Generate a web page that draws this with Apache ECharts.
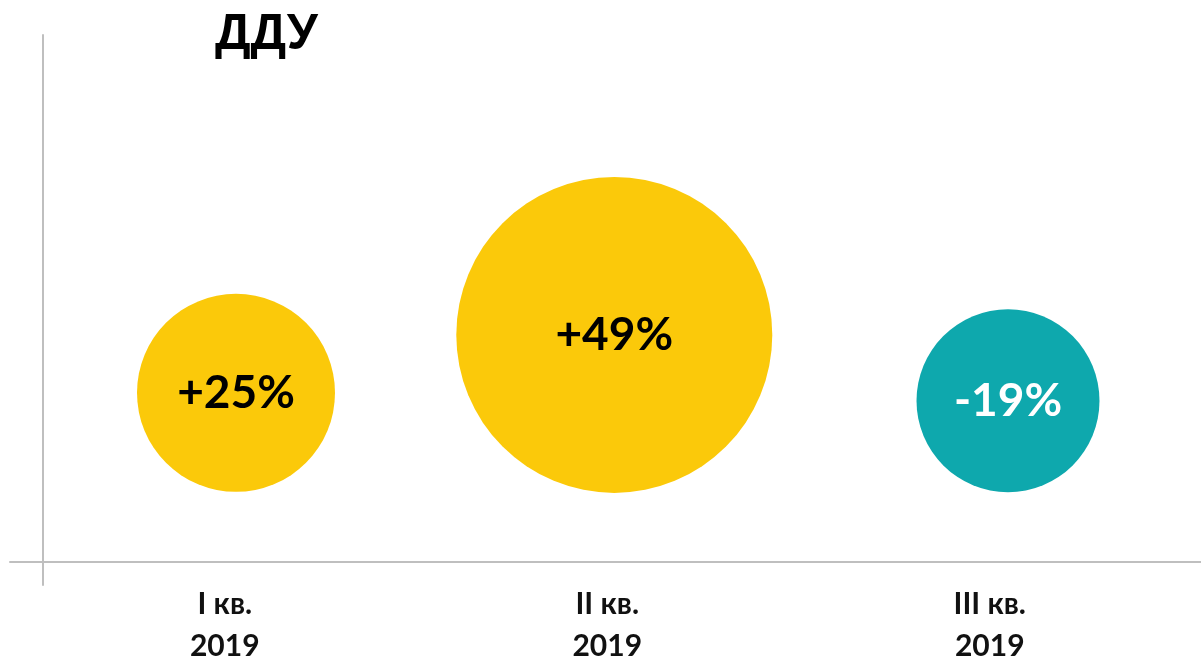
<!DOCTYPE html>
<html><head><meta charset="utf-8">
<script src="https://cdn.jsdelivr.net/npm/echarts@6/dist/echarts.min.js"></script>
<style>html,body{margin:0;padding:0;background:#fff}#c{width:1201px;height:667px}</style>
</head><body><div id="c"></div>
<script>
const categories = ['I кв.\n2019', 'II кв.\n2019', 'III кв.\n2019'];
const changePct = [25, 49, -19];
const bubbleX = [0.5, 1.48, 2.5];
const bubbleY = [32.1, 43.1, 30.6];
const bubbleSize = [198, 316, 183];
const titleText = 'ДДУ';

const YELLOW = '#FBC90A', TEAL = '#0EA8AD', AX = '#BFBFBF';
const chart = echarts.init(document.getElementById('c'));
chart.setOption({
  animation: false,
  title: { text: titleText, left: 210, top: 5,
    textStyle: { fontFamily: 'Liberation Sans', fontWeight: 'bold', fontSize: 50, color: '#000' } },
  grid: [
    { left: 10, right: 0, top: 35, bottom: 82 },
    { left: 33.5, width: 1147.5, top: 35, bottom: 105 }
  ],
  xAxis: [
    { type: 'value', gridIndex: 0, min: -0.0855, max: 3, splitLine: { show: false },
      axisLine: { show: true, onZero: true, lineStyle: { color: AX, width: 2 } },
      axisTick: { show: false }, axisLabel: { show: false } },
    { type: 'category', gridIndex: 1, data: categories,
      axisLine: { show: false }, axisTick: { show: false },
      axisLabel: { margin: 32, fontFamily: 'Lato', fontWeight: 'bold', fontSize: 30, lineHeight: 42, color: '#111' } }
  ],
  yAxis: [
    { type: 'value', gridIndex: 0, min: -4.36, max: 100, splitLine: { show: false },
      axisLine: { show: true, onZero: true, lineStyle: { color: AX, width: 2 } },
      axisTick: { show: false }, axisLabel: { show: false } },
    { type: 'value', gridIndex: 1, show: false }
  ],
  series: [{
    type: 'scatter', xAxisIndex: 0, yAxisIndex: 0,
    data: changePct.map((v, i) => ({
      value: [bubbleX[i], bubbleY[i], v],
      symbolSize: bubbleSize[i],
      itemStyle: { color: v >= 0 ? YELLOW : TEAL, opacity: 1 },
      label: { color: v >= 0 ? '#000' : '#fff' }
    })),
    label: { show: true, position: 'inside', fontFamily: 'Lato', fontWeight: 'bold', fontSize: 46,
      formatter: p => (p.value[2] > 0 ? '+' : '') + p.value[2] + '%' },
    emphasis: { disabled: true }
  }]
});
</script></body></html>
